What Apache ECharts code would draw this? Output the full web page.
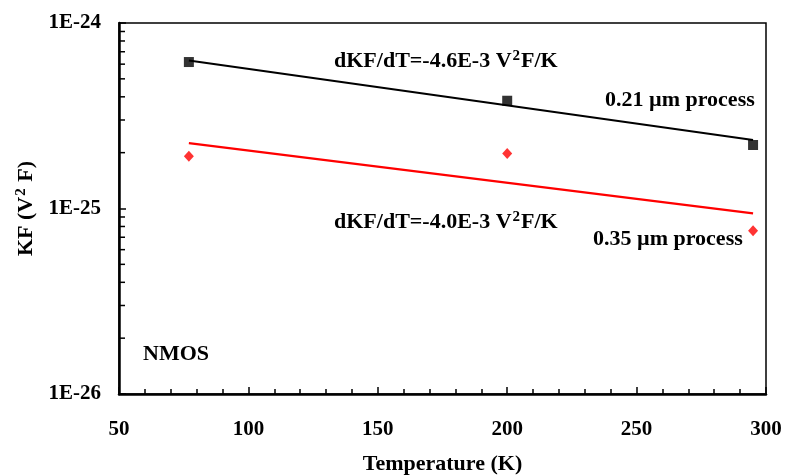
<!DOCTYPE html>
<html>
<head>
<meta charset="utf-8">
<script src="https://cdn.jsdelivr.net/npm/echarts@6/dist/echarts.min.js"></script>
<style>
html,body{margin:0;padding:0;background:#fff;}
#chart{width:786px;height:475px;}
</style>
</head>
<body>
<div id="chart"></div>
<script>
// Data
const temps = [77, 200, 295];
const kf021 = [6.16e-25, 3.81e-25, 2.20e-25];   // 0.21 um process (black squares)
const kf035 = [1.91e-25, 1.98e-25, 7.59e-26];   // 0.35 um process (red diamonds)
const fitT = [77, 295];
const fit021 = [6.28e-25, 2.34e-25];
const fit035 = [2.25e-25, 9.42e-26];
const yMinorTicks = [2e-26,3e-26,4e-26,5e-26,6e-26,7e-26,8e-26,9e-26,2e-25,3e-25,4e-25,5e-25,6e-25,7e-25,8e-25,9e-25];

const FONT = 'Liberation Serif';
// y axis is drawn in decades (log10 of the value)
const pair = (xs, ys) => xs.map((x, i) => [x, Math.log10(ys[i])]);

const chart = echarts.init(document.getElementById('chart'), null, {renderer: 'canvas'});
const baseText = {fontFamily: FONT, fontWeight: 'bold', color: '#000'};
const supStyle = {fontSize: 15, fontFamily: FONT, fontWeight: 'bold', color: '#000', verticalAlign: 'top', padding: [0,1,9,1]};

const option = {
  animation: false,
  backgroundColor: '#fff',
  grid: {left: 119, right: 20, top: 23, bottom: 81, outerBoundsMode: 'none', containLabel: false,
         show: true, borderColor: '#000', borderWidth: 1.5, backgroundColor: 'transparent'},
  xAxis: {
    type: 'value', min: 50, max: 300, interval: 50,
    name: 'Temperature (K)', nameLocation: 'middle', nameGap: 59,
    nameTextStyle: Object.assign({fontSize: 22}, baseText),
    axisLine: {show: true, onZero: false, lineStyle: {color: '#000', width: 2.5}},
    axisTick: {show: true, inside: true, length: 7, lineStyle: {color: '#000', width: 1.5}},
    minorTick: {show: true, splitNumber: 5, length: 5, lineStyle: {color: '#000', width: 1.5}},
    axisLabel: Object.assign({fontSize: 21, margin: 25}, baseText),
    splitLine: {show: false}
  },
  yAxis: {
    type: 'value', min: -26, max: -24, interval: 1,
    name: 'KF (V{sup|2} F)', nameLocation: 'middle', nameGap: 81, nameRotate: 90,
    nameTextStyle: Object.assign({fontSize: 22, rich: {sup: supStyle}}, baseText),
    axisLine: {show: true, onZero: false, lineStyle: {color: '#000', width: 2.5}},
    axisTick: {show: true, inside: true, length: 7, lineStyle: {color: '#000', width: 1.5}},
    axisLabel: Object.assign({fontSize: 21, margin: 18, padding: [12,0,0,0], formatter: v => '1E' + Math.round(v)}, baseText),
    splitLine: {show: false}
  },
  series: [
    {type: 'line', data: pair(fitT, fit021), symbol: 'none', lineStyle: {color: '#000', width: 2.2}, z: 2},
    {type: 'line', data: pair(fitT, fit035), symbol: 'none', lineStyle: {color: '#ff0000', width: 2.2}, z: 2},
    {type: 'scatter', data: pair(temps, kf021), symbol: 'rect', symbolSize: 10, itemStyle: {color: '#000'}, z: 3},
    {type: 'scatter', data: pair(temps, kf035), symbol: 'diamond', symbolSize: [10, 11], itemStyle: {color: '#ff0000'}, z: 3},
    {type: 'custom', silent: true, z: 4,
     data: yMinorTicks.map(v => [50, Math.log10(v)]),
     renderItem: function (params, api) {
       const p = api.coord([api.value(0), api.value(1)]);
       return {type: 'line', shape: {x1: p[0], y1: p[1], x2: p[0] + 6, y2: p[1]}, style: {stroke: '#000', lineWidth: 1.5}};
     }}
  ],
  graphic: [
    {type: 'text', left: 334, top: 49, style: {text: 'dKF/dT=-4.6E-3 V{sup|2}F/K', font: 'bold 22px ' + FONT, fill: '#000', rich: {sup: supStyle}}},
    {type: 'text', left: 605, top: 89, style: {text: '0.21 µm process', font: 'bold 22px ' + FONT, fill: '#000'}},
    {type: 'text', left: 334, top: 210, style: {text: 'dKF/dT=-4.0E-3 V{sup|2}F/K', font: 'bold 22px ' + FONT, fill: '#000', rich: {sup: supStyle}}},
    {type: 'text', left: 593, top: 228, style: {text: '0.35 µm process', font: 'bold 22px ' + FONT, fill: '#000'}},
    {type: 'text', left: 143, top: 343, style: {text: 'NMOS', font: 'bold 22px ' + FONT, fill: '#000'}}
  ]
};
chart.setOption(option);
</script>
</body>
</html>
